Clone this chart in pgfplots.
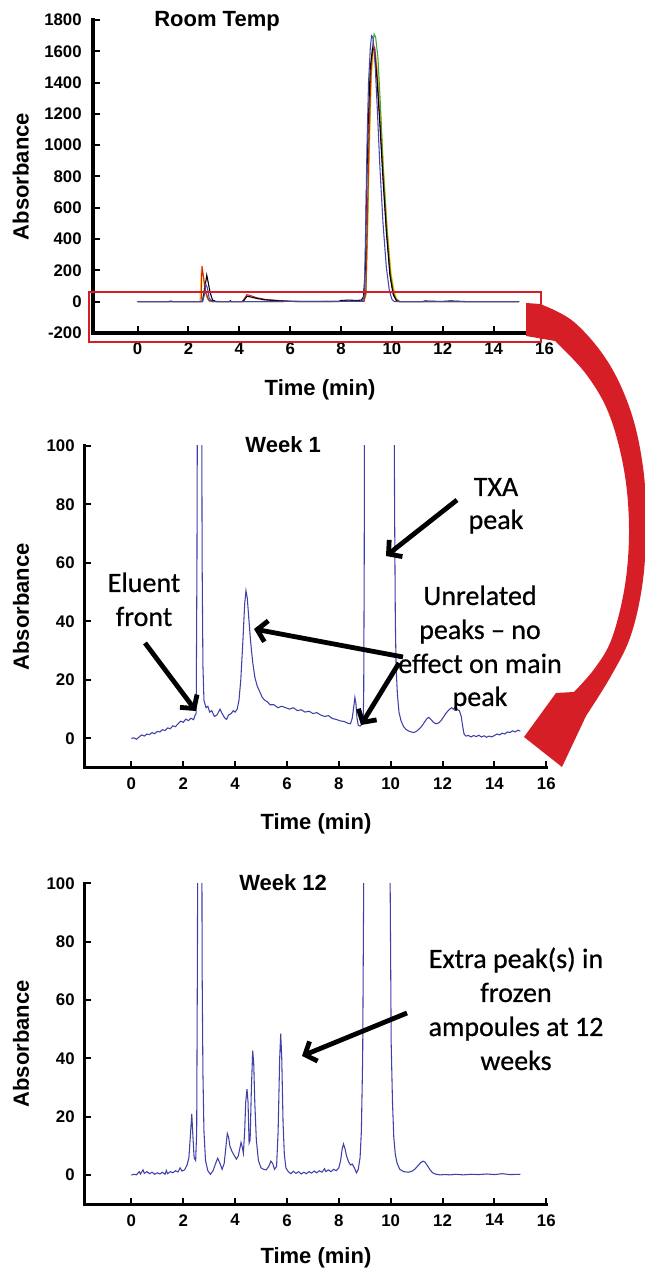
\documentclass[border=0pt]{standalone}
\usepackage{fontspec}
\setmainfont{Liberation Sans}
\newfontfamily\calibri[FakeBold=0.6]{Carlito}
\usepackage{pgfplots}
\pgfplotsset{compat=1.18}
\usetikzlibrary{arrows.meta}

\definecolor{trace}{RGB}{64,64,168}
\definecolor{bigred}{RGB}{214,30,38}
\definecolor{tyellow}{RGB}{232,220,0}
\definecolor{tgreen}{RGB}{60,170,60}
\definecolor{tred}{RGB}{222,30,30}
\definecolor{tblue}{RGB}{70,70,175}

\pgfplotsset{
  chrom/.style={
    scale only axis,
    axis lines=left,
    axis line style={-, line width=2.6pt, line cap=rect},
    tick style={black, line width=1.5pt},
    major tick length=5pt,
    tick align=inside,
    xmax=16,
    xtick={0,2,...,16},
    tick label style={font=\bfseries\fontsize{12.6}{14}\selectfont},
    /pgf/number format/assume math mode=true,
    /pgf/number format/1000 sep={},
    xticklabel style={yshift=-4pt},
    yticklabel style={xshift=-4pt},
    label style={font=\bfseries\fontsize{16.5}{19}\selectfont},
    every axis title/.style={anchor=center, font=\bfseries\fontsize{16.5}{19}\selectfont},
    xlabel={Time (min)},
    ylabel={Absorbance},
  },
  week/.style={
    chrom, xmin=-1.8, ymin=-10, ymax=100, ytick={0,20,...,100},
    width=346.2pt,
    ylabel style={at={(axis description cs:-0.138,0.5)}, anchor=center},
  },
}

\begin{document}
\begin{tikzpicture}
\path[use as bounding box] (0,0) rectangle (483.75pt,953.25pt);

% ---- Room Temp
\begin{axis}[chrom, at={(69.8pt,703.5pt)}, anchor=south west,
  width=338.6pt, height=234.75pt,
  xmin=-1.75, ymin=-200, ymax=1800, ytick={-200,0,...,1800},
  yticklabel style={xshift=-1pt},
  title={Room Temp},
  title style={at={(axis description cs:0.2746,0.997)}},
  xlabel style={at={(axis description cs:0.503,-0.182)}, anchor=center},
  ylabel style={at={(axis description cs:-0.16,0.5)}, anchor=center},
]
\addplot[tyellow, line width=0.8pt] coordinates {
(0,0) (2.45,0) (2.5,200) (2.56,190) (2.62,100) (2.7,40) (2.8,5) (3.0,0)
(8.9,3) (8.98,40) (9.05,450) (9.12,1000) (9.2,1450) (9.28,1600) (9.35,1590)
(9.45,1450) (9.56,1180) (9.68,820) (9.82,460) (9.97,180) (10.1,60) (10.2,15)
(10.35,0) (15,0)};
\addplot[tgreen, line width=0.8pt] coordinates {
(0,0) (2.55,0) (2.62,80) (2.68,60) (2.75,20) (2.85,0)
(8.9,3) (8.98,50) (9.04,500) (9.1,1000) (9.16,1400) (9.23,1620) (9.3,1710)
(9.36,1690) (9.45,1560) (9.55,1250) (9.66,850) (9.8,480) (9.93,200) (10.05,70)
(10.15,20) (10.3,0) (15,0)};
\addplot[tred, line width=0.8pt] coordinates {
(0,0) (2.45,0) (2.5,5) (2.53,228) (2.6,150) (2.68,60) (2.8,10) (3.0,2) (3.5,0)
(4.1,0) (4.2,20) (4.3,45) (4.45,38) (4.7,25) (5.0,15) (5.5,8) (6.0,3) (6.5,0)
(8.9,3) (8.97,60) (9.03,500) (9.1,1050) (9.18,1480) (9.26,1640) (9.33,1620)
(9.43,1420) (9.55,1100) (9.67,750) (9.8,420) (9.95,150) (10.08,40) (10.2,5)
(10.3,0) (15,0)};
\addplot[black, line width=0.8pt] coordinates {
(0,0) (1.2,0) (1.3,4) (1.4,0) (2.55,0) (2.62,60) (2.72,170) (2.78,120)
(2.85,60) (2.95,10) (3.1,0) (3.6,0) (3.65,6) (3.7,0) (4.15,0) (4.3,35)
(4.45,30) (4.7,20) (5.0,12) (5.5,6) (6.0,2) (6.5,0) (7.9,0) (8.0,8) (8.3,10)
(8.6,8) (8.8,10) (8.88,30) (8.95,200) (9.0,700) (9.07,1150) (9.15,1500)
(9.24,1620) (9.3,1610) (9.4,1450) (9.52,1150) (9.65,780) (9.78,450)
(9.92,170) (10.05,45) (10.18,5) (10.3,0) (11.2,0) (11.3,5) (11.5,3) (12.0,2)
(12.3,5) (12.6,3) (13.0,0) (15,0)};
\addplot[tblue, line width=0.8pt] coordinates {
(0,0) (2.55,0) (2.62,40) (2.68,110) (2.74,90) (2.82,20) (2.95,0)
(8.85,3) (8.92,50) (8.97,500) (9.02,1000) (9.08,1400) (9.15,1620) (9.2,1700)
(9.25,1690) (9.32,1580) (9.42,1250) (9.53,850) (9.65,500) (9.78,220)
(9.9,70) (10.0,15) (10.1,0) (15,0)};
\end{axis}

% ---- Week 1
\begin{axis}[week, at={(63.5pt,377.5pt)}, anchor=south west, height=241.3pt,
  title={Week 1},
  title style={at={(axis description cs:0.43,1.003)}},
  xlabel style={at={(axis description cs:0.501,-0.173)}, anchor=center},
]
\addplot[trace, line width=0.8pt] coordinates {
(0,0) (0.1,0.2) (0.2,-0.3) (0.3,0.5) (0.4,1.2) (0.5,0.8) (0.6,1.5) (0.7,1.3)
(0.8,2.0) (0.9,1.6) (1.0,2.4) (1.1,2.2) (1.2,3.0) (1.3,2.7) (1.4,3.6)
(1.5,3.3) (1.6,4.3) (1.7,4.0) (1.8,5.0) (1.9,5.9) (2.0,5.5) (2.1,6.6)
(2.2,6.1) (2.3,6.9) (2.4,6.4) (2.45,7.8) (2.5,8.5) (2.53,60) (2.56,160)
(2.64,250) (2.7,160) (2.73,60) (2.76,25) (2.8,13) (2.88,10.5) (2.95,11)
(3.02,9) (3.1,9.5) (3.2,7.5) (3.3,8) (3.42,10) (3.5,8.5) (3.6,7) (3.67,6.5)
(3.75,8) (3.85,8.5) (3.93,9.5) (4.0,9) (4.08,10) (4.15,13) (4.22,20)
(4.3,33) (4.37,46) (4.42,50.5) (4.47,48) (4.53,41) (4.6,33) (4.68,26)
(4.76,21) (4.85,18) (4.95,16) (5.05,14) (5.15,13) (5.25,12.5) (5.35,11.5)
(5.5,11.5) (5.65,10.5) (5.8,11) (5.95,10.5) (6.1,10) (6.25,10.5) (6.4,9.5)
(6.55,9.8) (6.7,9) (6.85,9.3) (7.0,8.5) (7.15,8.8) (7.3,8) (7.45,7.5)
(7.6,7.8) (7.75,6.8) (7.9,6.5) (8.05,6) (8.2,5.8) (8.35,5.2) (8.45,5)
(8.52,7) (8.58,11) (8.62,14) (8.66,12) (8.7,7) (8.75,4.5) (8.82,4.2)
(8.9,5) (8.94,6) (8.96,15) (8.98,60) (9.0,150) (9.3,1700) (10.12,150)
(10.15,80) (10.18,40) (10.21,24) (10.26,15) (10.32,9) (10.4,6) (10.5,4)
(10.6,3) (10.7,2.5) (10.8,2.2) (10.9,2) (11.0,2.5) (11.1,3.2) (11.2,4.2)
(11.3,5.5) (11.4,6.8) (11.47,7.2) (11.55,6.5) (11.65,5.5) (11.75,5)
(11.85,5.3) (11.95,6.2) (12.05,7.5) (12.15,8.8) (12.25,9.8) (12.35,10.5)
(12.42,10) (12.5,10.8) (12.58,9.8) (12.65,9.5) (12.72,7.5) (12.78,4)
(12.83,1.5) (12.9,0.8) (13.0,1) (13.1,0.5) (13.2,1) (13.3,0.6) (13.4,1.1)
(13.5,0.5) (13.6,0.9) (13.7,0.4) (13.8,0.8) (13.9,0.5) (14.0,1) (14.1,1.5)
(14.2,1.2) (14.3,1.8) (14.4,1.5) (14.5,2.2) (14.6,2) (14.7,2.6) (14.8,2.2)
(14.9,2.8) (15.0,2.5)};
\end{axis}

% ---- Week 12
\begin{axis}[week, at={(63.5pt,50.0pt)}, anchor=south west, height=240.75pt,
  title={Week 12},
  title style={at={(axis description cs:0.43,1.002)}},
  xlabel style={at={(axis description cs:0.501,-0.168)}, anchor=center},
]
\addplot[trace, line width=0.8pt] coordinates {
(0,0) (0.1,0.3) (0.2,0.1) (0.3,1.2) (0.35,0.4) (0.45,1.8) (0.5,0.6) (0.6,1.2)
(0.7,0.5) (0.8,1.0) (0.9,0.3) (1.0,0.8) (1.1,0.4) (1.2,1.0) (1.3,0.3)
(1.35,1.6) (1.4,0.5) (1.5,1.2) (1.6,0.8) (1.7,1.5) (1.8,1.1) (1.88,2.5)
(1.95,1.4) (2.05,1.8) (2.15,3.5) (2.22,6) (2.28,14) (2.33,21) (2.37,14)
(2.42,6) (2.48,5) (2.52,15) (2.55,80) (2.58,200) (2.66,300) (2.71,150)
(2.73,70) (2.76,35) (2.8,15) (2.86,5) (2.95,1.5) (3.05,0.3) (3.15,1.5)
(3.25,4) (3.33,5.8) (3.42,4) (3.5,2) (3.58,4) (3.65,10) (3.7,14.3) (3.75,13)
(3.8,10) (3.87,8.3) (3.95,7) (4.05,5.5) (4.12,6.5) (4.18,9) (4.23,11.2)
(4.28,9.5) (4.32,7.5) (4.37,15) (4.41,25) (4.46,29.5) (4.5,25) (4.54,11)
(4.58,12) (4.63,30) (4.68,42.7) (4.72,38) (4.76,25) (4.82,12) (4.9,5)
(5.0,2.5) (5.1,2) (5.2,1.8) (5.3,3) (5.38,4.8) (5.45,4) (5.52,2) (5.6,3)
(5.66,15) (5.72,40) (5.76,48.5) (5.8,40) (5.85,18) (5.9,7) (5.96,2.5)
(6.05,1.2) (6.15,0.5) (6.25,1.3) (6.35,0.6) (6.45,1.2) (6.55,0.4) (6.65,1.0)
(6.75,0.5) (6.85,1.2) (6.95,0.7) (7.05,1.4) (7.15,0.8) (7.25,1.5) (7.35,1)
(7.45,2.2) (7.5,1.2) (7.6,1.8) (7.7,1.2) (7.8,2) (7.9,1.5) (8.0,2.5)
(8.07,5) (8.13,9) (8.18,10.7) (8.24,9) (8.3,6.5) (8.38,4.5) (8.45,3.5)
(8.52,3.8) (8.6,2.5) (8.68,0.8) (8.75,2) (8.82,6) (8.87,15) (8.92,40)
(8.96,100) (8.98,200) (9.3,1700) (9.95,200) (9.98,100) (10.02,45) (10.07,25)
(10.12,13) (10.18,7) (10.25,4) (10.35,2) (10.5,1.2) (10.7,1) (10.85,1.5)
(10.95,2.2) (11.05,3.2) (11.15,4.2) (11.25,4.8) (11.32,4.5) (11.42,3.2)
(11.52,1.8) (11.62,0.8) (11.75,0.3) (11.9,0.1) (12.1,0.2) (12.3,0.1)
(12.5,0.3) (12.8,0.1) (13.1,0.3) (13.4,0.2) (13.7,0.4) (14.0,0.2) (14.3,0.5)
(14.6,0.2) (15.0,0.3)};
\end{axis}

% ---- annotations, in pixel units of the reference (y downwards)
\begin{scope}[x=0.75pt, y=0.75pt, shift={(0pt,953.25pt)}, yscale=-1]
  \draw[bigred, line width=2pt] (89,292) rectangle (541,342);
  \fill[bigred] (526,303)
    -- plot[smooth, tension=0.6] coordinates {(540,304) (574,322) (608,362)
       (631,412) (643,467) (646,520) (643,580) (631,635) (611,676) (586,716)}
    -- (562,767) -- (524,737) -- (556,693)
    -- plot[smooth, tension=0.6] coordinates {(574,692) (595,668) (612,638)
       (625,585) (629,528) (624,470) (609,414) (586,374) (555,341)}
    -- (526,336) -- cycle;

  \begin{scope}[line width=3.6pt, -{Straight Barb[length=7pt, width=16pt]}]
    \draw (457,500) -- (386,556);
    \draw (145,643) -- (196,711);
    \draw (403,657) -- (254,629);
    \draw (399,663) -- (361,725);
    \draw (407,1013) -- (302,1056);
  \end{scope}

  \begin{scope}[every node/.style={font=\calibri\fontsize{21}{25}\selectfont, anchor=base, inner sep=0pt}]
    \node at (496,496) {TXA};
    \node at (496,529) {peak};
    \node at (144,592) {Eluent};
    \node at (144,626) {front};
    \node at (480,605) {Unrelated};
    \node at (480,639) {peaks – no};
    \node at (480,673) {effect on main};
    \node at (480,706) {peak};
    \node at (516,968) {Extra peak(s) in};
    \node at (516,1002) {frozen};
    \node at (516,1036) {ampoules at 12};
    \node at (516,1070) {weeks};
  \end{scope}
\end{scope}
\end{tikzpicture}
\end{document}
